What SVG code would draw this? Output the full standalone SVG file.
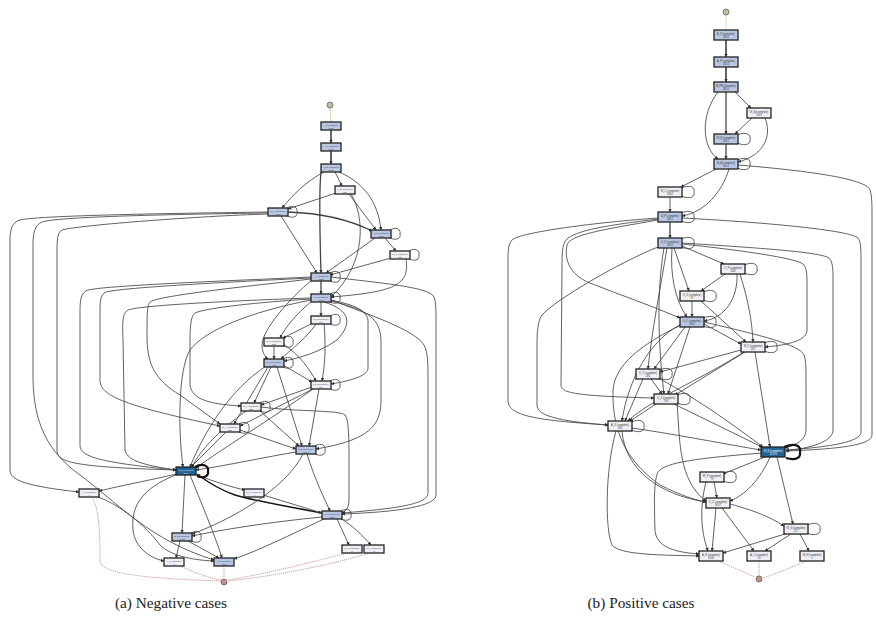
<svg xmlns="http://www.w3.org/2000/svg" width="876" height="628" viewBox="0 0 876 628">
<style>
.e{fill:none;stroke:#444;stroke-width:0.85;marker-end:url(#ar)}
.t{fill:none;stroke:#555;stroke-width:1.8;marker-end:url(#ar)}
.m{fill:none;stroke:#444;stroke-width:1.3;marker-end:url(#ar)}
.l{fill:none;stroke:#444;stroke-width:0.85}
.lk{fill:none;stroke:#111;stroke-width:2.2;marker-end:url(#ar)}
.sg{fill:none;stroke:#b9bc8c;stroke-width:1;stroke-dasharray:1.2 0.8}
.er{fill:none;stroke:#b88a86;stroke-width:0.8;stroke-dasharray:1.2 0.8}
.b rect{fill:#b9c7e2;stroke:#222;stroke-width:1.3}
.w rect{fill:#efeff5;stroke:#222;stroke-width:1.3}
.d rect{fill:#1d6396;stroke:#222;stroke-width:1.3}
.nl text{font-family:"Liberation Sans",Arial,sans-serif;font-size:2.2px;fill:#333;text-anchor:middle}
.nr text{font-family:"Liberation Sans",Arial,sans-serif;font-size:2.6px;fill:#333;text-anchor:middle}
.d text{fill:#fff}
.cap{font-family:"Liberation Serif","Times New Roman",serif;font-size:15.3px;fill:#222;text-anchor:middle}
</style>
<defs>
<marker id="ar" viewBox="0 0 6 6" refX="5.5" refY="3" markerWidth="3.5" markerHeight="3.5" orient="auto" markerUnits="userSpaceOnUse"><path d="M0,0L6,3L0,6z" fill="#333"/></marker>
</defs>
<rect width="876" height="628" fill="#fff"/>

<g id="edges-a">
<path class="sg" d="M330,108 L331,122"/>
<path class="t" d="M331,130 L331,143"/>
<path class="t" d="M331,151 L331,164"/>
<path class="e" d="M324,172 C305,182 292,196 282,208"/>
<path class="e" d="M335,172 L342,186"/>
<path class="m" d="M321,172 C319,190 320,240 321,273"/>
<path class="e" d="M339,172 C362,182 378,200 381,230"/>
<path class="e" d="M336,193 L288,209"/>
<path class="e" d="M349,194 L376,230"/>
<path class="e" d="M351,194 C364,215 368,262 331,297"/>
<path class="m" d="M288,212 C320,213 350,220 372,231"/>
<path class="e" d="M281,216 L317,273"/>
<path class="e" d="M375,238 L326,273"/>
<path class="e" d="M385,238 L396,251"/>
<path class="e" d="M391,258 L330,275"/>
<path class="e" d="M406,259 C410,285 395,292 331,297"/>
<path class="m" d="M321,281 L321,294"/>
<path class="e" d="M321,302 L321,316"/>
<path class="e" d="M313,323 L283,338"/>
<path class="e" d="M274,346 L274,359"/>
<path class="e" d="M316,324 C305,340 290,350 281,359"/>
<path class="e" d="M312,301 C295,315 285,328 280,338"/>
<path class="e" d="M312,280 C290,298 262,330 262,345 C262,352 265,357 268,359"/>
<path class="e" d="M324,302 C350,310 353,323 337,340 C320,352 300,358 284,361"/>
<path class="e" d="M324,324 C326,345 325,365 322,381"/>
<path class="e" d="M283,365 L312,382"/>
<path class="e" d="M283,344 C300,355 310,370 316,381"/>
<path class="e" d="M277,367 L302,446"/>
<path class="e" d="M319,389 L309,446"/>
<path class="e" d="M312,387 L261,405"/>
<path class="e" d="M313,389 L240,426"/>
<path class="e" d="M271,367 L254,403"/>
<path class="e" d="M268,367 L234,424"/>
<path class="e" d="M266,366 C230,390 205,430 190,467"/>
<path class="e" d="M246,411 C220,430 200,450 192,467"/>
<path class="e" d="M226,432 L191,467"/>
<path class="e" d="M259,410 L299,446"/>
<path class="e" d="M240,430 L296,449"/>
<path class="e" d="M313,389 C270,420 220,450 196,468"/>
<path class="e" d="M296,452 C260,458 230,465 196,470"/>
<path class="e" d="M177,474 C150,480 120,486 99,491"/>
<path class="e" d="M194,474 C215,482 235,488 245,490"/>
<path class="e" d="M185,475 L182,533"/>
<path class="e" d="M190,475 C200,500 215,535 222,558"/>
<path class="e" d="M178,474 C150,485 130,500 133,530 C135,548 150,558 164,561"/>
<path class="lk" style="stroke-width:1.4" d="M322,513 C280,505 250,500 235,495 C215,488 205,480 197,474"/>
<path class="e" d="M263,495 L322,513"/>
<path class="e" d="M307,454 C315,480 325,500 330,511"/>
<path class="e" d="M303,454 C285,490 230,520 192,534"/>
<path class="e" d="M322,517 C270,522 220,530 192,536"/>
<path class="e" d="M324,519 C290,535 260,550 234,559"/>
<path class="e" d="M337,519 L349,545"/>
<path class="e" d="M340,518 C352,525 362,535 371,545"/>
<path class="e" d="M180,541 L176,558"/>
<path class="e" d="M188,541 L219,558"/>
<path class="e" d="M98,497 C120,505 145,525 160,545 C170,555 190,560 214,561"/>
<path class="er" d="M180,566 C195,573 210,578 221,580"/>
<path class="er" d="M224,566 L224,578"/>
<path class="er" d="M348,553 C300,565 260,575 228,580"/>
<path class="er" d="M370,553 C320,568 260,578 228,581"/>
<path class="er" d="M92,497 C100,510 100,540 100,560 C100,572 130,578 220,581"/>
<path class="e" d="M268,212 C200,213 40,215 20,220 C12,222 10,230 10,240 L10,470 C10,480 25,486 79,492"/>
<path class="e" d="M268,213 C200,214 60,216 42,222 C35,225 33,232 33,245 L33,380 C34,420 45,450 80,475 C120,505 150,540 214,560"/>
<path class="e" d="M268,214 C200,216 80,225 62,230 C58,232 57,238 57,250 L57,450 C57,462 70,467 176,470"/>
<path class="e" d="M311,277 C250,280 110,285 88,290 C82,292 80,298 80,310 L80,445 C80,456 95,462 176,470"/>
<path class="e" d="M311,278 C250,281 125,287 106,292 C101,294 100,300 100,310 L100,380 C100,395 120,405 220,426"/>
<path class="e" d="M311,298 C250,300 140,305 128,310 C123,313 122,320 123,340 L125,450 C127,462 150,466 176,470"/>
<path class="e" d="M311,279 C260,285 160,295 150,302 C147,305 147,315 147,340 C148,365 155,380 180,395 L220,424"/>
<path class="e" d="M311,299 C260,302 205,308 195,313 C191,316 190,325 190,340 L190,385 C192,398 205,404 241,406"/>
<path class="e" d="M311,300 C250,312 205,330 190,350 C178,370 178,430 183,467"/>
<path class="e" d="M331,277 C380,283 430,287 434,297 C436,302 436,310 436,320 L436,495 C436,506 400,512 342,514"/>
<path class="e" d="M331,300 C370,315 415,330 424,345 C428,352 428,365 428,380 L428,493 C428,503 405,508 342,513"/>
<path class="e" d="M331,300 C355,305 366,310 368,320 L368,368 C368,375 355,380 331,384"/>
<path class="e" d="M331,301 C370,310 380,320 381,340 L381,400 C381,425 370,440 316,449"/>
<path class="e" d="M261,407 C300,412 340,410 345,415 C349,420 349,440 349,460 L349,500 C349,508 345,512 342,513"/>
<path class="l" d="M287,208 C294,204 298,208 297,212 C298,216 294,219 287,216"/>
<path class="l" d="M390,230 C397,226 401,230 400,234 C401,238 397,241 390,238"/>
<path class="l" d="M409,251 C416,247 420,251 419,255 C420,259 416,262 409,259"/>
<path class="l" d="M330,273 C337,269 341,273 340,277 C341,281 337,284 330,281"/>
<path class="l" d="M330,294 C337,290 341,294 340,298 C341,302 337,305 330,302"/>
<path class="l" d="M330,316 C337,312 341,316 340,320 C341,324 337,327 330,324"/>
<path class="l" d="M283,338 C290,334 294,338 293,342 C294,346 290,349 283,346"/>
<path class="l" d="M283,359 C290,355 294,359 293,363 C294,367 290,370 283,367"/>
<path class="l" d="M330,381 C337,377 341,381 340,385 C341,389 337,392 330,389"/>
<path class="l" d="M260,403 C267,399 271,403 270,407 C271,411 267,414 260,411"/>
<path class="l" d="M239,424 C246,420 250,424 249,428 C250,432 246,435 239,432"/>
<path class="l" d="M315,446 C322,442 326,446 325,450 C326,454 322,457 315,454"/>
<path class="lk" style="marker-end:none" d="M195,467 C204,462 209,467 208,471 C209,476 204,479 197,476"/>
<path class="l" d="M341,511 C348,507 352,511 351,515 C352,519 348,522 341,519"/>
<path class="l" d="M191,533 C198,529 202,533 201,537 C202,541 198,544 191,541"/>
</g>

<g id="edges-b">
<path class="sg" d="M726,15 L726,30"/>
<path class="t" d="M726,40 L726,57"/>
<path class="t" d="M726,67 L726,82"/>
<path class="e" d="M735,92 L751,108"/>
<path class="t" style="stroke-width:1.4" d="M726,92 L726,134"/>
<path class="e" d="M718,92 C700,115 702,148 718,159"/>
<path class="e" d="M752,118 L735,134"/>
<path class="e" d="M765,118 C772,135 765,155 738,162"/>
<path class="t" style="stroke-width:1.4" d="M726,144 L726,159"/>
<path class="e" d="M716,169 L681,187"/>
<path class="e" d="M729,169 C722,192 705,212 682,216"/>
<path class="e" d="M670,197 L670,212"/>
<path class="m" d="M670,222 L670,238"/>
<path class="e" d="M738,165 C800,170 866,178 870,190 C872,196 872,205 872,215 L872,435 C872,445 840,449 786,451"/>
<path class="e" d="M682,218 C760,222 850,230 858,238 C861,242 861,250 861,262 L861,432 C861,442 830,447 786,450"/>
<path class="e" d="M658,218 C600,222 520,232 512,240 C508,244 508,252 508,262 L508,400 C508,415 530,420 608,425"/>
<path class="e" d="M658,219 C610,225 575,230 566,240 C562,245 562,255 562,265 L561,385 C561,393 575,396 654,398"/>
<path class="e" d="M658,247 C620,262 555,300 542,315 C537,322 537,335 537,350 L537,405 C537,415 555,421 608,425"/>
<path class="e" d="M658,220 C600,230 570,235 567,245 C564,260 570,275 590,283 C620,295 650,305 680,318"/>
<path class="e" d="M682,246 L724,264"/>
<path class="e" d="M674,248 L689,291"/>
<path class="e" d="M672,248 C670,275 675,300 687,317"/>
<path class="e" d="M667,248 C660,290 652,330 648,369"/>
<path class="e" d="M664,248 C655,300 660,360 664,394"/>
<path class="e" d="M682,244 C740,250 795,258 803,264 C807,268 807,275 807,285 L807,330 C807,340 790,345 765,347"/>
<path class="e" d="M682,243 C760,248 820,252 829,258 C833,262 833,270 833,280 L833,430 C833,442 810,448 786,451"/>
<path class="e" d="M725,274 L701,291"/>
<path class="e" d="M737,274 C738,298 725,318 704,321"/>
<path class="e" d="M740,274 C748,300 752,320 753,342"/>
<path class="e" d="M692,301 L692,317"/>
<path class="e" d="M701,301 L746,342"/>
<path class="e" d="M704,324 L741,344"/>
<path class="e" d="M685,327 L654,369"/>
<path class="e" d="M690,327 L668,394"/>
<path class="e" d="M680,325 C650,340 628,380 622,421"/>
<path class="e" d="M704,322 C760,335 800,345 804,355 C806,360 806,370 806,380 L806,430 C806,440 796,445 785,448"/>
<path class="e" d="M681,325 C640,345 615,365 613,390 C612,430 625,460 660,485 C680,495 695,500 706,502"/>
<path class="e" d="M741,350 L660,372"/>
<path class="e" d="M745,352 L675,395"/>
<path class="e" d="M755,352 L770,447"/>
<path class="e" d="M744,352 C700,380 650,400 628,421"/>
<path class="e" d="M651,379 L662,394"/>
<path class="e" d="M643,379 L625,421"/>
<path class="e" d="M658,378 C700,400 740,430 763,447"/>
<path class="e" d="M656,404 L630,421"/>
<path class="e" d="M674,404 L762,447"/>
<path class="e" d="M677,403 C680,440 678,480 706,501"/>
<path class="e" d="M632,428 C680,435 730,445 761,450"/>
<path class="e" d="M622,431 C625,470 660,495 706,502"/>
<path class="e" d="M616,431 C605,470 605,530 612,545 C620,555 660,555 699,556"/>
<path class="e" d="M765,457 L723,474"/>
<path class="e" d="M770,457 C760,480 745,495 730,501"/>
<path class="e" d="M777,457 L793,524"/>
<path class="e" d="M762,453 C700,458 665,462 658,472 C654,480 654,500 655,530 C656,545 670,552 699,554"/>
<path class="e" d="M714,482 L717,498"/>
<path class="e" d="M706,482 C700,505 700,530 708,551"/>
<path class="e" d="M716,508 L712,551"/>
<path class="e" d="M722,508 L754,551"/>
<path class="e" d="M730,504 C760,512 775,520 784,526"/>
<path class="e" d="M785,534 L723,553"/>
<path class="e" d="M791,534 L765,551"/>
<path class="e" d="M800,534 L809,551"/>
<path class="er" d="M718,561 C735,568 748,574 755,577"/>
<path class="er" d="M759,561 L759,576"/>
<path class="er" d="M806,561 C790,568 775,574 763,578"/>
<path class="l" d="M737,135 C747,131 751,135 750,139 C751,143 747,147 737,143"/>
<path class="l" d="M737,160 C747,156 751,160 750,164 C751,168 747,172 737,168"/>
<path class="l" d="M681,188 C691,184 695,188 694,192 C695,196 691,200 681,196"/>
<path class="l" d="M681,213 C691,209 695,213 694,217 C695,221 691,225 681,221"/>
<path class="l" d="M681,239 C691,235 695,239 694,243 C695,247 691,251 681,247"/>
<path class="l" d="M744,265 C754,261 758,265 757,269 C758,273 754,277 744,273"/>
<path class="l" d="M703,292 C713,288 717,292 716,296 C717,300 713,304 703,300"/>
<path class="l" d="M703,318 C713,314 717,318 716,322 C717,326 713,330 703,326"/>
<path class="l" d="M764,343 C774,339 778,343 777,347 C778,351 774,355 764,351"/>
<path class="l" d="M659,370 C669,366 673,370 672,374 C673,378 669,382 659,378"/>
<path class="l" d="M677,395 C687,391 691,395 690,399 C691,403 687,407 677,403"/>
<path class="l" d="M631,422 C641,418 645,422 644,426 C645,430 641,434 631,430"/>
<path class="lk" style="marker-end:none" d="M784,447 C797,442 801,447 800,452 C801,457 797,461 786,458"/>
<path class="l" d="M723,473 C733,469 737,473 736,477 C737,481 733,485 723,481"/>
<path class="l" d="M807,525 C817,521 821,525 820,529 C821,533 817,537 807,533"/>
</g>

<g id="nodes-a" class="nl">
<circle id="a-start" cx="330" cy="105" r="3" fill="#b9c29a" stroke="#555" stroke-width="0.7"/>
<circle id="a-end" cx="224" cy="582" r="3" fill="#c98f8f" stroke="#555" stroke-width="0.7"/>
<g id="a1" class="b"><rect x="321" y="122" width="20" height="8"/><text x="331" y="125.5">A_S (complete)</text><text x="331" y="128.8">1003</text></g>
<g id="a2" class="b"><rect x="321" y="143" width="20" height="8"/><text x="331" y="146.5">A_P (complete)</text><text x="331" y="149.8">1003</text></g>
<g id="a3" class="b"><rect x="321" y="164" width="20" height="8"/><text x="331" y="167.5">A_PR (complete)</text><text x="331" y="170.8">1003</text></g>
<g id="a4" class="w"><rect x="335" y="186" width="20" height="8"/><text x="345" y="189.5">A_D (complete)</text><text x="345" y="192.8">134</text></g>
<g id="a5" class="b"><rect x="268" y="208" width="20" height="8"/><text x="278" y="211.5">W_A (complete)</text><text x="278" y="214.8">1003</text></g>
<g id="a6" class="b"><rect x="371" y="230" width="20" height="8"/><text x="381" y="233.5">W_B (complete)</text><text x="381" y="236.8">1003</text></g>
<g id="a7" class="w"><rect x="390" y="251" width="20" height="8"/><text x="400" y="254.5">W_C (complete)</text><text x="400" y="257.8">134</text></g>
<g id="a8" class="b"><rect x="311" y="273" width="20" height="8"/><text x="321" y="276.5">A_A (complete)</text><text x="321" y="279.8">1003</text></g>
<g id="a9" class="b"><rect x="311" y="294" width="20" height="8"/><text x="321" y="297.5">A_F (complete)</text><text x="321" y="300.8">1003</text></g>
<g id="a10" class="w"><rect x="311" y="316" width="20" height="8"/><text x="321" y="319.5">O_S (complete)</text><text x="321" y="322.8">544</text></g>
<g id="a11" class="w"><rect x="264" y="338" width="20" height="8"/><text x="274" y="341.5">O_P (complete)</text><text x="274" y="344.8">371</text></g>
<g id="a12" class="b"><rect x="264" y="359" width="20" height="8"/><text x="274" y="362.5">O_C (complete)</text><text x="274" y="365.8">1003</text></g>
<g id="a13" class="w"><rect x="311" y="381" width="20" height="8"/><text x="321" y="384.5">W_D (complete)</text><text x="321" y="387.8">247</text></g>
<g id="a14" class="w"><rect x="241" y="403" width="20" height="8"/><text x="251" y="406.5">O_X (complete)</text><text x="251" y="409.8">331</text></g>
<g id="a15" class="w"><rect x="220" y="424" width="20" height="8"/><text x="230" y="427.5">O_Y (complete)</text><text x="230" y="430.8">326</text></g>
<g id="a16" class="b"><rect x="296" y="446" width="20" height="8"/><text x="306" y="449.5">O_Z (complete)</text><text x="306" y="452.8">1003</text></g>
<g id="a17" class="d"><rect x="176" y="467" width="20" height="8"/><text x="186" y="470.5">W_E (complete)</text><text x="186" y="473.8">5434</text></g>
<g id="a18" class="w"><rect x="79" y="489" width="20" height="8"/><text x="89" y="492.5">A_X (complete)</text><text x="89" y="495.8">4</text></g>
<g id="a19" class="w"><rect x="244" y="489" width="20" height="8"/><text x="254" y="492.5">W_F (complete)</text><text x="254" y="495.8">4</text></g>
<g id="a20" class="b"><rect x="322" y="511" width="20" height="8"/><text x="332" y="514.5">W_G (complete)</text><text x="332" y="517.8">1003</text></g>
<g id="a21" class="b"><rect x="172" y="533" width="20" height="8"/><text x="182" y="536.5">O_D (complete)</text><text x="182" y="539.8">1003</text></g>
<g id="a22" class="w"><rect x="164" y="558" width="20" height="8"/><text x="174" y="561.5">A_C (complete)</text><text x="174" y="564.8">7</text></g>
<g id="a23" class="b"><rect x="214" y="558" width="20" height="8"/><text x="224" y="561.5">A_E (complete)</text><text x="224" y="564.8">1003</text></g>
<g id="a24" class="w"><rect x="342" y="545" width="20" height="8"/><text x="352" y="548.5">W_H (complete)</text><text x="352" y="551.8">1</text></g>
<g id="a25" class="w"><rect x="364" y="545" width="20" height="8"/><text x="374" y="548.5">W_I (complete)</text><text x="374" y="551.8">2</text></g>
</g>

<g id="nodes-b" class="nr">
<circle id="b-start" cx="726" cy="12" r="3" fill="#b9c29a" stroke="#555" stroke-width="0.7"/>
<circle id="b-end" cx="759" cy="579" r="3" fill="#c98f8f" stroke="#555" stroke-width="0.7"/>
<g id="b1" class="b"><rect x="714" y="30" width="24" height="10"/><text x="726" y="34.5">A_S (complete)</text><text x="726" y="38.3">3051</text></g>
<g id="b2" class="b"><rect x="714" y="57" width="24" height="10"/><text x="726" y="61.5">A_P (complete)</text><text x="726" y="65.3">3051</text></g>
<g id="b3" class="b"><rect x="714" y="82" width="24" height="10"/><text x="726" y="86.5">A_PR (complete)</text><text x="726" y="90.3">3051</text></g>
<g id="b4" class="w"><rect x="747" y="108" width="24" height="10"/><text x="759" y="112.5">W_A (complete)</text><text x="759" y="116.3">1567</text></g>
<g id="b5" class="b"><rect x="714" y="134" width="24" height="10"/><text x="726" y="138.5">W_B (complete)</text><text x="726" y="142.3">3051</text></g>
<g id="b6" class="b"><rect x="714" y="159" width="24" height="10"/><text x="726" y="163.5">A_A (complete)</text><text x="726" y="167.3">3051</text></g>
<g id="b7" class="w"><rect x="658" y="187" width="24" height="10"/><text x="670" y="191.5">W_C (complete)</text><text x="670" y="195.3">2361</text></g>
<g id="b8" class="b"><rect x="658" y="212" width="24" height="10"/><text x="670" y="216.5">A_F (complete)</text><text x="670" y="220.3">3051</text></g>
<g id="b9" class="b"><rect x="658" y="238" width="24" height="10"/><text x="670" y="242.5">O_S (complete)</text><text x="670" y="246.3">3051</text></g>
<g id="b10" class="w"><rect x="721" y="264" width="24" height="10"/><text x="733" y="268.5">O_P (complete)</text><text x="733" y="272.3">1181</text></g>
<g id="b11" class="w"><rect x="680" y="291" width="24" height="10"/><text x="692" y="295.5">O_X (complete)</text><text x="692" y="299.3">97</text></g>
<g id="b12" class="b"><rect x="680" y="317" width="24" height="10"/><text x="692" y="321.5">O_C (complete)</text><text x="692" y="325.3">3051</text></g>
<g id="b13" class="w"><rect x="741" y="342" width="24" height="10"/><text x="753" y="346.5">W_D (complete)</text><text x="753" y="350.3">281</text></g>
<g id="b14" class="w"><rect x="636" y="369" width="24" height="10"/><text x="648" y="373.5">O_Y (complete)</text><text x="648" y="377.3">285</text></g>
<g id="b15" class="w"><rect x="654" y="394" width="24" height="10"/><text x="666" y="398.5">O_Z (complete)</text><text x="666" y="402.3">256</text></g>
<g id="b16" class="w"><rect x="608" y="421" width="24" height="10"/><text x="620" y="425.5">A_X (complete)</text><text x="620" y="429.3">283</text></g>
<g id="b17" class="d"><rect x="761" y="447" width="24" height="10"/><text x="773" y="451.5">W_E (complete)</text><text x="773" y="455.3">12179</text></g>
<g id="b18" class="w"><rect x="700" y="472" width="24" height="10"/><text x="712" y="476.5">W_F (complete)</text><text x="712" y="480.3">79</text></g>
<g id="b19" class="w"><rect x="706" y="498" width="24" height="10"/><text x="718" y="502.5">O_D (complete)</text><text x="718" y="506.3">3057</text></g>
<g id="b20" class="w"><rect x="784" y="524" width="24" height="10"/><text x="796" y="528.5">W_G (complete)</text><text x="796" y="532.3">227</text></g>
<g id="b21" class="w"><rect x="699" y="551" width="24" height="10"/><text x="711" y="555.5">A_E (complete)</text><text x="711" y="559.3">3030</text></g>
<g id="b22" class="w"><rect x="747" y="551" width="24" height="10"/><text x="759" y="555.5">A_C (complete)</text><text x="759" y="559.3">13</text></g>
<g id="b23" class="w"><rect x="800" y="551" width="24" height="10"/><text x="812" y="555.5">W_H (complete)</text><text x="812" y="559.3">1</text></g>
</g>

<text class="cap" x="171" y="608">(a) Negative cases</text>
<text class="cap" x="641" y="608">(b) Positive cases</text>
</svg>
